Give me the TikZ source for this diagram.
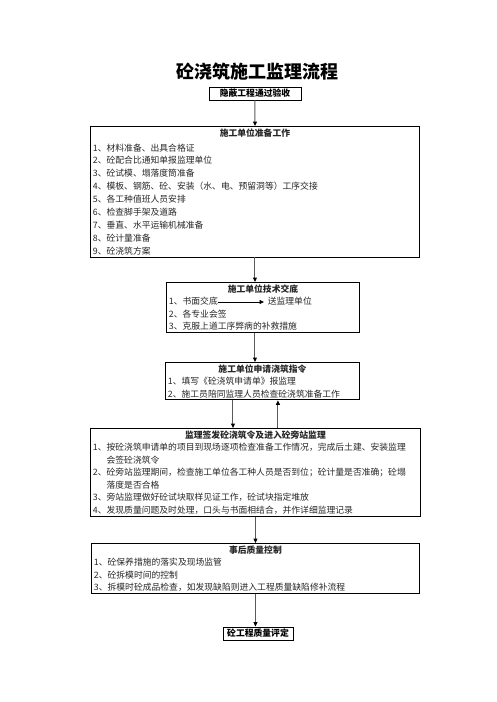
\documentclass[tikz,border=0pt]{standalone}
\usepackage{fontspec}
\setmainfont{Noto Sans CJK SC}
\usetikzlibrary{arrows.meta, positioning}

\begin{document}
\begin{tikzpicture}[x=1pt, y=-1pt,
    flowbox/.style={draw, line width=0.9pt, anchor=north west, inner xsep=2.5pt, inner ysep=2pt, align=left, text=black!85, font=\fontsize{8.8pt}{12.5pt}\selectfont},
    headbox/.style={draw, line width=0.9pt, inner sep=1pt, font=\fontsize{8.8pt}{10pt}\selectfont\bfseries},
    flowarrow/.style={-{Triangle[length=4.5pt, width=4pt, black]}, line width=1pt, draw=black!65}
  ]
  \useasboundingbox (0,0) rectangle (496,702);
  % Title
  \node[font=\fontsize{18pt}{20pt}\selectfont\bfseries] (title) at (257.5,72) {砼浇筑施工监理流程};
  % Start box
  \node[headbox, minimum width=92pt, minimum height=13pt] (hidden) at (255,93.5) {隐蔽工程通过验收};
  % Preparation work
  \node[flowbox, text width=324pt, font=\fontsize{8.8pt}{12.9pt}\selectfont] (prep) at (90,126) {
    \hfill\textbf{施工单位准备工作}\hfill\null\\[2pt]
    1、材料准备、出具合格证\\
    2、砼配合比通知单报监理单位\\
    3、砼试模、塌落度筒准备\\
    4、模板、钢筋、砼、安装（水、电、预留洞等）工序交接\\
    5、各工种值班人员安排\\
    6、检查脚手架及道路\\
    7、垂直、水平运输机械准备\\
    8、砼计量准备\\
    9、砼浇筑方案
  };
  % Technical briefing
  \node[flowbox, text width=188pt] (brief) at (166,282) {
    \hfill\textbf{施工单位技术交底}\hfill\null\\
    1、书面交底\hspace{50pt}送监理单位\\
    2、各专业会签\\
    3、克服上道工序弊病的补救措施
  };
  \coordinate (briefA) at ([xshift=52pt, yshift=-20pt]brief.north west);
  \coordinate (briefB) at ([xshift=98pt, yshift=-20pt]brief.north west);
  \draw[-{Triangle[length=4.5pt, width=4pt]}, line width=0.8pt] (briefA) -- (briefB);
  % Pouring request
  \node[flowbox, text width=189pt] (request) at (165,362) {
    \hfill\textbf{施工单位申请浇筑指令}\hfill\null\\
    1、填写《砼浇筑申请单》报监理\\
    2、施工员陪同监理人员检查砼浇筑准备工作
  };
  % Supervision on site
  \node[flowbox, text width=325pt] (super) at (90,428) {
    \hfill\textbf{监理签发砼浇筑令及进入砼旁站监理}\hfill\null\\
    1、按砼浇筑申请单的项目到现场逐项检查准备工作情况，完成后土建、安装监理\\
    \hphantom{1、}会签砼浇筑令\\
    2、砼旁站监理期间，检查施工单位各工种人员是否到位；砼计量是否准确；砼塌\\
    \hphantom{2、}落度是否合格\\
    3、旁站监理做好砼试块取样见证工作，砼试块指定堆放\\
    4、发现质量问题及时处理，口头与书面相结合，并作详细监理记录
  };
  % Quality control afterwards
  \node[flowbox, text width=323pt] (after) at (91,543) {
    \hfill\textbf{事后质量控制}\hfill\null\\
    1、砼保养措施的落实及现场监管\\
    2、砼拆模时间的控制\\
    3、拆模时砼成品检查，如发现缺陷则进入工程质量缺陷修补流程
  };
  % Final evaluation
  \node[headbox, minimum width=70pt, minimum height=13pt] (assess) at (258,633.5) {砼工程质量评定};
  % Arrows
  \draw[flowarrow] (hidden) -- (prep);
  \draw[flowarrow] (prep.south) -- (prep.south |- brief.north);
  \draw[flowarrow] (brief.south -| prep.south) -- (prep.south |- request.north);
  \coordinate (reqDown) at ([xshift=-29.5pt]request.south);
  \coordinate (reqUp) at ([xshift=15.5pt]request.south);
  \draw[flowarrow] (reqDown) -- (reqDown |- super.north);
  \draw[flowarrow] (reqUp |- super.north) -- (reqUp);
  \draw[flowarrow] (super.south) -- (super.south |- after.north);
  \draw[flowarrow] (after.south) -- (after.south |- assess.north);
\end{tikzpicture}
\end{document}
